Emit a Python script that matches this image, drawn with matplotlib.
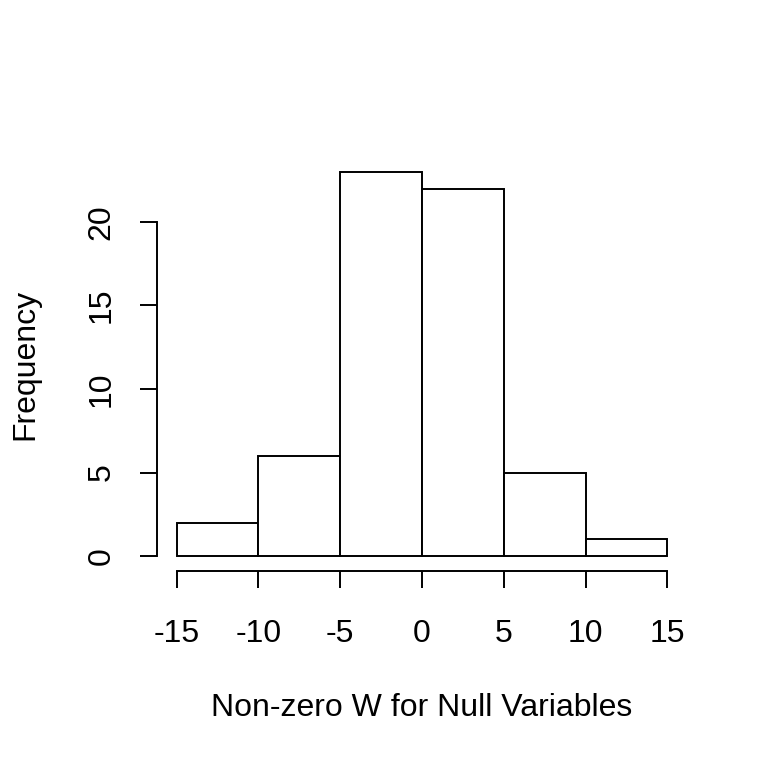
import matplotlib
matplotlib.use("Agg")
import matplotlib.pyplot as plt
import numpy as np

# histogram data
bin_edges = [-15, -10, -5, 0, 5, 10, 15]
counts = [2, 6, 23, 22, 5, 1]
x_ticks = [-15, -10, -5, 0, 5, 10, 15]
y_ticks = [0, 5, 10, 15, 20]

plt.rcParams['font.family'] = ['Liberation Sans', 'DejaVu Sans']
fs = 23
lw = 1.4

fig = plt.figure(figsize=(7.68, 7.68), dpi=100)
ax = fig.add_axes([157 / 768, 1 - 571.4 / 768, 530 / 768, 414.9 / 768])

lefts = np.array(bin_edges[:-1])
widths = np.diff(bin_edges)
ax.bar(lefts, counts, width=widths, align='edge', facecolor='white',
       edgecolor='black', linewidth=lw)

# R-style range padding of 4%
ax.set_xlim(-15 - 1.2, 15 + 1.2)
ax.set_ylim(-0.04 * 23, 23 * 1.04)

for s in ['top', 'right']:
    ax.spines[s].set_visible(False)
ax.spines['left'].set_bounds(0, 20)
ax.spines['bottom'].set_bounds(-15, 15)
ax.spines['left'].set_linewidth(lw)
ax.spines['bottom'].set_linewidth(lw)

ax.set_xticks(x_ticks)
ax.set_xticklabels([str(v) for v in x_ticks])
ax.set_yticks(y_ticks)
ax.set_yticklabels([str(v) for v in y_ticks], rotation=90, va='center')
ax.tick_params(axis='both', length=12, width=lw, labelsize=fs)
ax.tick_params(axis='x', pad=22)
ax.tick_params(axis='y', pad=17)

fig.text(422 / 768, 1 - 708 / 768, 'Non-zero W for Null Variables',
         ha='center', va='center', fontsize=fs)
fig.text(25 / 768, 1 - 364 / 768, 'Frequency', rotation=90,
         ha='center', va='center', fontsize=fs)

fig.savefig('out.png', dpi=100)
